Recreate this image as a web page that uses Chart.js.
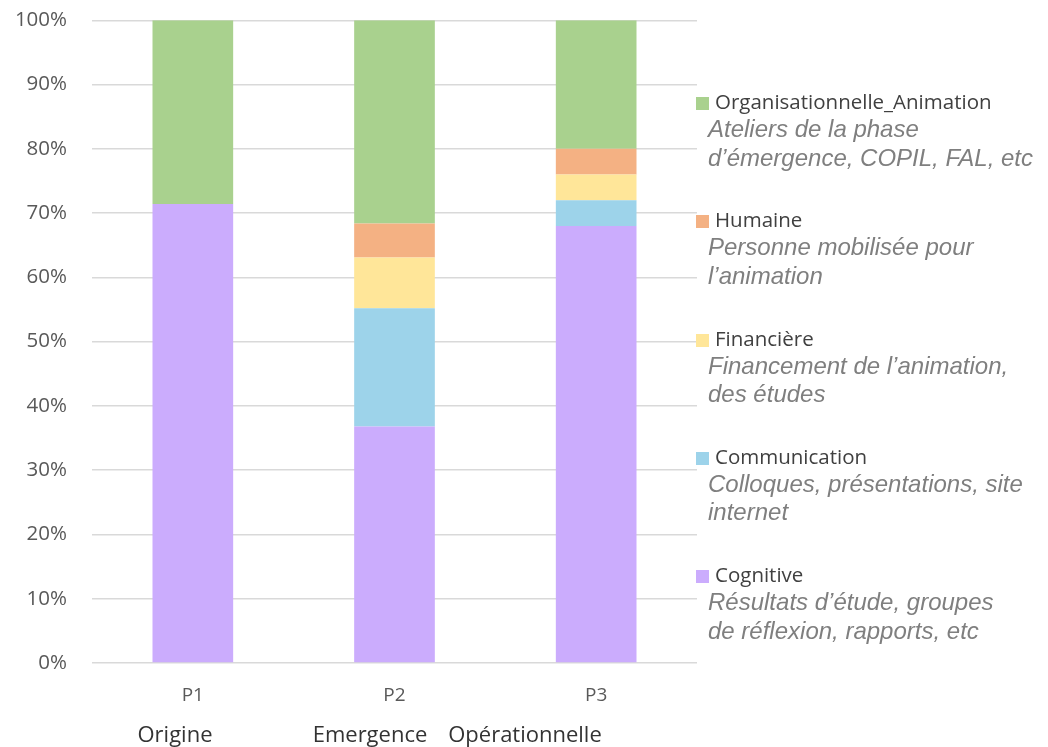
<!DOCTYPE html>
<html>
<head>
<meta charset="utf-8">
<script src="https://cdn.jsdelivr.net/npm/chart.js@4"></script>
<style>
  html,body{margin:0;padding:0;background:#fff;}
  #wrap{position:relative;width:1048px;height:747px;overflow:hidden;}
  #chart{position:absolute;left:0;top:0;}
  #legend{position:absolute;left:696px;top:88px;width:352px;}
  .item{height:118.3px;}
  .title{font-family:"Open Sans",sans-serif;font-size:20.5px;color:#404040;line-height:26px;white-space:nowrap;}
  .sw{display:inline-block;width:13px;height:13px;margin-right:6px;vertical-align:-1px;}
  .desc{font-family:"Liberation Sans",Arial,sans-serif;font-style:italic;font-size:24px;color:#7f7f7f;line-height:28.5px;margin-left:12px;margin-top:1px;white-space:nowrap;}
  .phase{position:absolute;top:720px;font-family:"Open Sans",sans-serif;font-size:22px;line-height:26px;color:#333;transform:translateX(-50%);white-space:nowrap;}
</style>
</head>
<body>
<div id="wrap">
  <canvas id="chart" width="1048" height="747"></canvas>
  <div id="legend"></div>
  <div class="phase" style="left:175px">Origine</div>
  <div class="phase" style="left:370px">Emergence</div>
  <div class="phase" style="left:525px">Opérationnelle</div>
</div>
<script>
// data (percent of each period)
const categories = ['P1', 'P2', 'P3'];
const cognitive = [71.4, 36.8, 68];
const communication = [0, 18.4, 4];
const financiere = [0, 7.9, 4];
const humaine = [0, 5.3, 4];
const organisationnelle = [28.6, 31.6, 20];
const yTicks = [0, 10, 20, 30, 40, 50, 60, 70, 80, 90, 100];

const seriesNames = ['Cognitive', 'Communication', 'Financière', 'Humaine', 'Organisationnelle_Animation'];
const seriesDesc = [
  'Résultats d’étude, groupes<br>de réflexion, rapports, etc',
  'Colloques, présentations, site<br>internet',
  'Financement de l’animation,<br>des études',
  'Personne mobilisée pour<br>l’animation',
  'Ateliers de la phase<br>d’émergence, COPIL, FAL, etc'
];
const colors = ['#cbacfd', '#9dd3ea', '#ffe699', '#f4b183', '#a9d18e'];

const values = [cognitive, communication, financiere, humaine, organisationnelle];
const datasets = values.map((v, i) => ({
  label: seriesNames[i],
  data: v,
  backgroundColor: colors[i],
  borderWidth: 0,
  barPercentage: 0.4,
  categoryPercentage: 1
}));

const font = {family: '"Open Sans", sans-serif'};

function makeChart(canvas){
  return new Chart(canvas.getContext('2d'), {
    type: 'bar',
    data: {labels: categories, datasets},
    options: {
      responsive: false,
      animation: false,
      devicePixelRatio: 1,
      layout: {padding: {top: 20, right: 351, left: 0, bottom: 0}},
      plugins: {legend: {display: false}, tooltip: {enabled: false}},
      scales: {
        x: {
          stacked: true,
          grid: {display: false, drawTicks: false},
          border: {display: false},
          ticks: {color: '#595959', font: {...font, size: 19}, padding: 21},
          afterFit: s => { s.height = 84; }
        },
        y: {
          stacked: true,
          min: 0, max: 100,
          afterBuildTicks: s => { s.ticks = yTicks.map(v => ({value: v})); },
          grid: {color: '#d9d9d9', lineWidth: 1.5, drawTicks: false},
          border: {display: false},
          ticks: {color: '#595959', font: {...font, size: 20.5}, padding: 25, callback: v => v + '%'},
          afterFit: s => { s.width = 92; }
        }
      }
    }
  });
}

// the plot top sits lower than asked, so grow the canvas and slide it up
const cv = document.getElementById('chart');
let chart = makeChart(cv);
const dy = Math.round(chart.chartArea.top - 20);
if (dy > 0) {
  chart.destroy();
  cv.height = 747 + dy;
  cv.style.height = (747 + dy) + 'px';
  cv.style.top = (-dy) + 'px';
  chart = makeChart(cv);
}

// legend, top item first like the original
const leg = document.getElementById('legend');
for (let i = seriesNames.length - 1; i >= 0; i--) {
  const d = document.createElement('div');
  d.className = 'item';
  d.innerHTML = `<div class="title"><span class="sw" style="background:${colors[i]}"></span>${seriesNames[i]}</div>
    <div class="desc">${seriesDesc[i]}</div>`;
  leg.appendChild(d);
}
</script>
</body>
</html>
